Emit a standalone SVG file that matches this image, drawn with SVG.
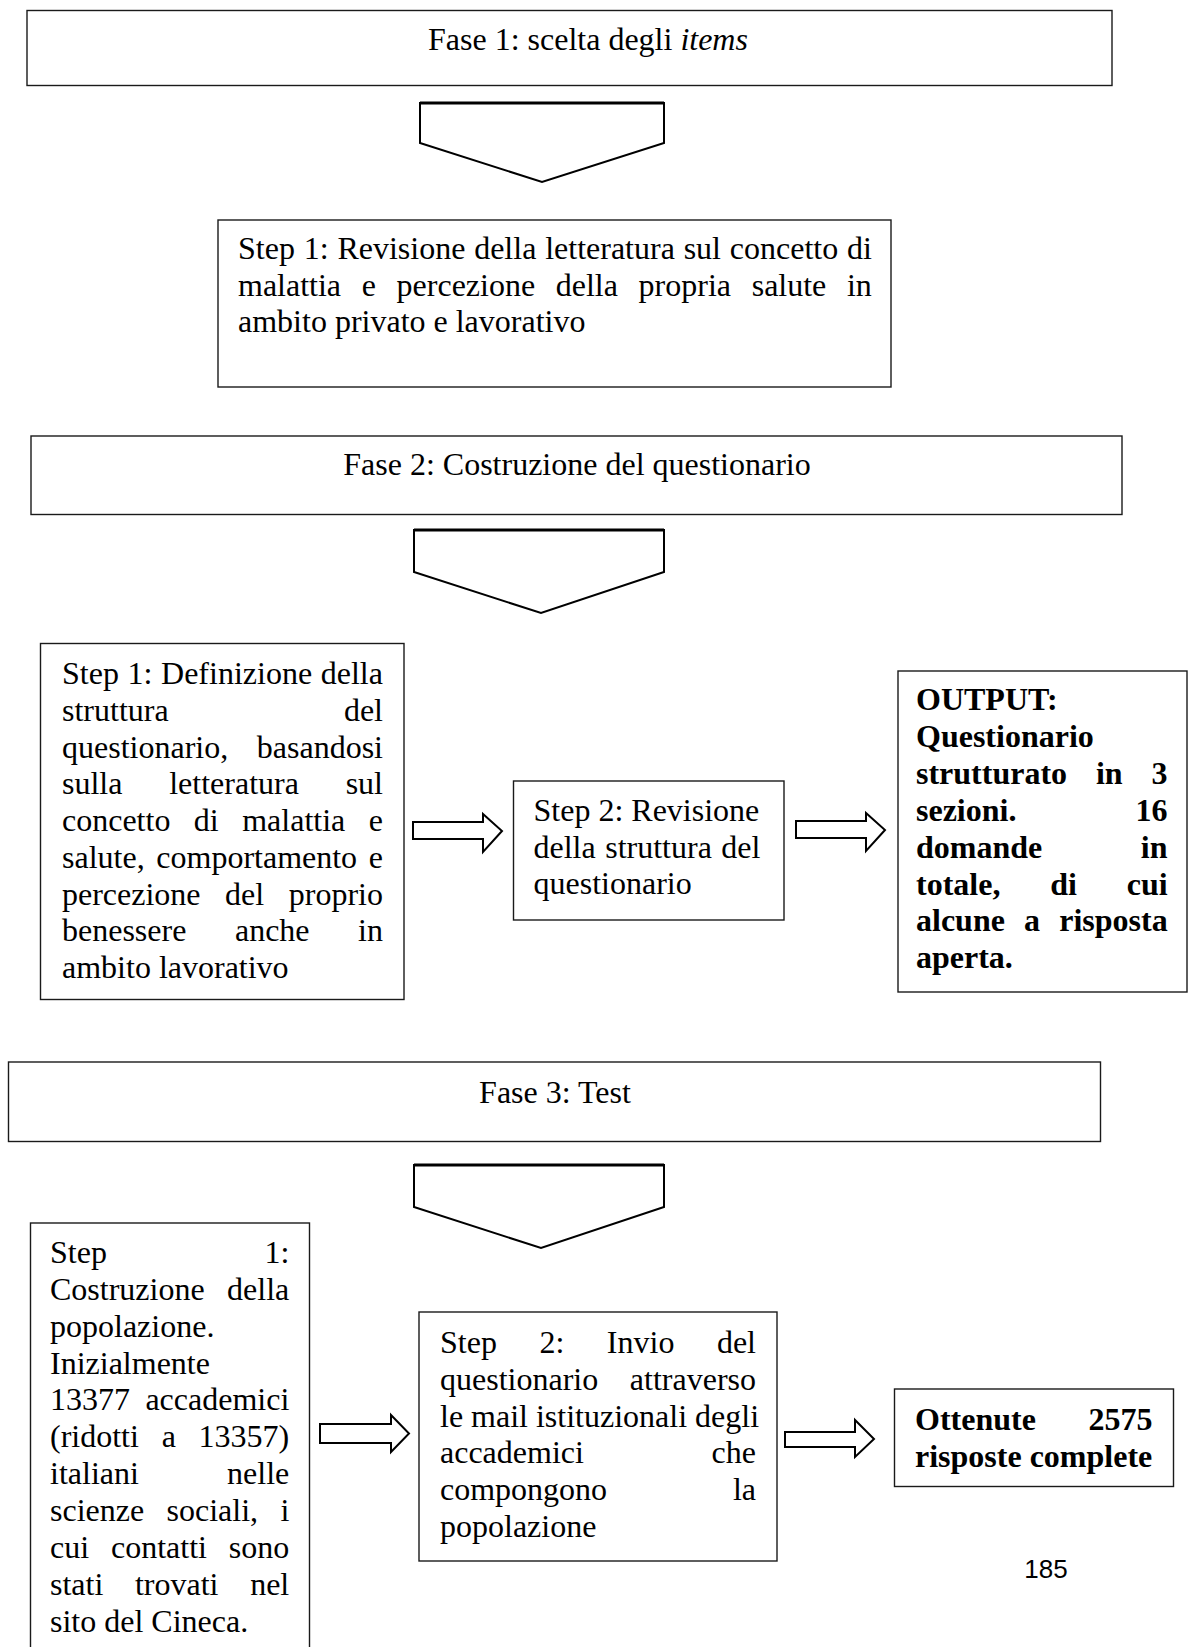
<svg xmlns="http://www.w3.org/2000/svg" width="1193" height="1647" viewBox="0 0 1193 1647">
<style>
.box{fill:#fff;stroke:#1a1a1a;stroke-width:1.4}
.chev{fill:#fff;stroke:#000;stroke-width:2}
.chevtop{stroke:#000;stroke-width:3.2}
.arr{fill:#fff;stroke:#000;stroke-width:2;stroke-linejoin:miter}
text{font-family:"Liberation Serif","Times New Roman",serif;font-size:32px;fill:#000}
.b{font-weight:bold}
.e{text-anchor:end}
.m{text-anchor:middle}
.pg{font-family:"Liberation Sans",Arial,sans-serif;font-size:26px}
</style>
<rect width="1193" height="1647" fill="#fff"/>

<g id="connectors">
  <polygon class="chev" points="420,103 664,103 664,143 542,182 420,143"/>
  <line class="chevtop" x1="420" y1="103" x2="664" y2="103"/>
  <polygon class="chev" points="414,530 664,530 664,572 541,613 414,572"/>
  <line class="chevtop" x1="414" y1="530" x2="664" y2="530"/>
  <polygon class="chev" points="414,1165 664,1165 664,1207 541,1248 414,1207"/>
  <line class="chevtop" x1="414" y1="1165" x2="664" y2="1165"/>
  <polygon class="arr" points="413,822 483,822 483,814 502,831 483,852 483,839 413,839"/>
  <polygon class="arr" points="796,821 866,821 866,813 885,830 866,851 866,838 796,838"/>
  <polygon class="arr" points="320,1424 391,1424 391,1415 409,1433.5 391,1452 391,1443 320,1443"/>
  <polygon class="arr" points="785,1432 855,1432 855,1420 874,1439 855,1457 855,1447 785,1447"/>
</g>

<g id="fase1">
  <rect class="box" x="27" y="10.5" width="1085" height="75"/>
  <text x="428" y="50">Fase 1: scelta degli <tspan font-style="italic">items</tspan></text>
</g>

<g id="fase1-step1">
  <rect class="box" x="218" y="220" width="673" height="167"/>
  <text x="238" y="259" style="word-spacing:0.8px">Step 1: Revisione della letteratura sul concetto di</text>
  <text x="238" y="295.7" style="word-spacing:12.65px">malattia e percezione della propria salute in</text>
  <text x="238" y="332.4">ambito privato e lavorativo</text>
</g>

<g id="fase2">
  <rect class="box" x="31" y="436" width="1091" height="78.5"/>
  <text class="m" x="577" y="475">Fase 2: Costruzione del questionario</text>
</g>

<g id="fase2-step1">
  <rect class="box" x="40.5" y="643.5" width="363.5" height="356"/>
  <text x="62" y="684.3" style="word-spacing:0.64px">Step 1: Definizione della</text>
  <text x="62" y="721">struttura</text><text class="e" x="383" y="721">del</text>
  <text x="62" y="757.7">questionario,</text><text class="e" x="383" y="757.7">basandosi</text>
  <text x="62" y="794.4" style="word-spacing:38.75px">sulla letteratura sul</text>
  <text x="62" y="831.1" style="word-spacing:15.47px">concetto di malattia e</text>
  <text x="62" y="867.8" style="word-spacing:3.65px">salute, comportamento e</text>
  <text x="62" y="904.5" style="word-spacing:16.55px">percezione del proprio</text>
  <text x="62" y="941.2" style="word-spacing:40.55px">benessere anche in</text>
  <text x="62" y="977.9">ambito lavorativo</text>
</g>

<g id="fase2-step2">
  <rect class="box" x="513.5" y="781" width="270.5" height="139"/>
  <text x="533.5" y="821">Step 2: Revisione</text>
  <text x="533.5" y="857.7" style="word-spacing:1.5px">della struttura del</text>
  <text x="533.5" y="894.4">questionario</text>
</g>

<g id="fase2-output">
  <rect class="box" x="898" y="671" width="289" height="321"/>
  <text class="b" x="916" y="710">OUTPUT:</text>
  <text class="b" x="916" y="746.9">Questionario</text>
  <text class="b" x="916" y="783.8" style="word-spacing:20.9px">strutturato in 3</text>
  <text class="b" x="916" y="820.7">sezioni.</text><text class="b e" x="1167.5" y="820.7">16</text>
  <text class="b" x="916" y="857.6">domande</text><text class="b e" x="1167.5" y="857.6">in</text>
  <text class="b" x="916" y="894.5" style="word-spacing:41.8px">totale, di cui</text>
  <text class="b" x="916" y="931.4" style="word-spacing:11.15px">alcune a risposta</text>
  <text class="b" x="916" y="968.3">aperta.</text>
</g>

<g id="fase3">
  <rect class="box" x="8.5" y="1062" width="1092" height="79.5"/>
  <text class="m" x="555" y="1103">Fase 3: Test</text>
</g>

<g id="fase3-step1">
  <rect class="box" x="30.5" y="1223" width="279" height="440"/>
  <text x="50" y="1263">Step</text><text class="e" x="289.3" y="1263">1:</text>
  <text x="50" y="1299.85">Costruzione</text><text class="e" x="289.3" y="1299.85">della</text>
  <text x="50" y="1336.7">popolazione.</text>
  <text x="50" y="1373.55">Inizialmente</text>
  <text x="50" y="1410.4">13377</text><text class="e" x="289.3" y="1410.4">accademici</text>
  <text x="50" y="1447.25" style="word-spacing:14.75px">(ridotti a 13357)</text>
  <text x="50" y="1484.1">italiani</text><text class="e" x="289.3" y="1484.1">nelle</text>
  <text x="50" y="1520.95" style="word-spacing:14.35px">scienze sociali, i</text>
  <text x="50" y="1557.8" style="word-spacing:13.85px">cui contatti sono</text>
  <text x="50" y="1594.65" style="word-spacing:23.65px">stati trovati nel</text>
  <text x="50" y="1631.5">sito del Cineca.</text>
</g>

<g id="fase3-step2">
  <rect class="box" x="419" y="1312" width="358" height="249"/>
  <text x="440" y="1353" style="word-spacing:34.53px">Step 2: Invio del</text>
  <text x="440" y="1389.8">questionario</text><text class="e" x="756" y="1389.8">attraverso</text>
  <text x="440" y="1426.6">le mail istituzionali degli</text>
  <text x="440" y="1463.4">accademici</text><text class="e" x="756" y="1463.4">che</text>
  <text x="440" y="1500.2">compongono</text><text class="e" x="756" y="1500.2">la</text>
  <text x="440" y="1537">popolazione</text>
</g>

<g id="fase3-output">
  <rect class="box" x="894.5" y="1389" width="279" height="97.5"/>
  <text class="b" x="915" y="1430">Ottenute</text><text class="b e" x="1152.5" y="1430">2575</text>
  <text class="b" x="915" y="1466.5">risposte complete</text>
</g>

<text class="pg m" x="1046" y="1578">185</text>
</svg>
